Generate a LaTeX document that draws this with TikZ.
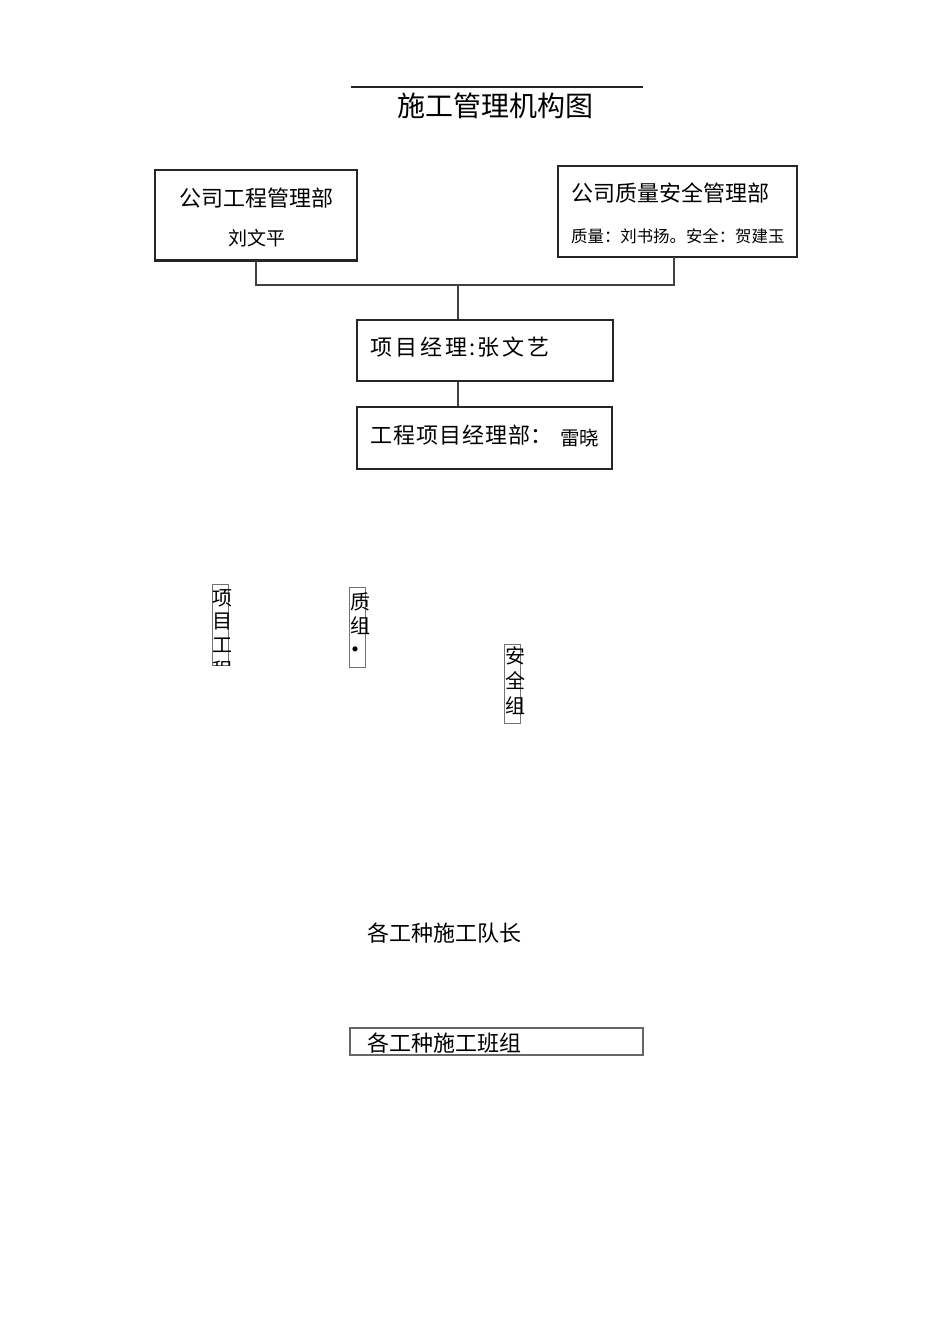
\documentclass[tikz,border=0pt]{standalone}
\usepackage{fontspec}
\newfontfamily\cjk{Noto Sans CJK SC}
\begin{document}
\begin{tikzpicture}[x=1pt,y=-1pt,
  box/.style={draw=black!85,line width=1.3pt,inner sep=0pt},
  slim/.style={draw=black!55,line width=1pt,inner sep=0pt,minimum width=16pt,minimum height=80pt},
  lbl/.style={font=\cjk\fontsize{#1}{#1}\selectfont,inner sep=0pt,anchor=west},
  vch/.style={font=\cjk\fontsize{20}{20}\selectfont,inner sep=0pt,anchor=center},
  conn/.style={draw=black!75,line width=1.3pt}]
\useasboundingbox[fill=white] (0,0) rectangle (950,1344);

% title
\draw[black!85,line width=1.2pt] (351,87) -- (643,87);
\node[lbl=28] (title) at (397,106) {施工管理机构图};

% top boxes
\node[box,minimum width=202pt,minimum height=90pt] (b1) at (256,215) {};
\draw[black!85,line width=2.4pt] (b1.south west) -- (b1.south east);
\node[lbl=22] (b1a) at (179,198) {公司工程管理部};
\node[lbl=19] (b1b) at (228,238) {刘文平};

\node[box,minimum width=239pt,minimum height=91pt] (b2) at (677.5,211.5) {};
\node[lbl=22] (b2a) at (571,193) {公司质量安全管理部};
\node[lbl=16.4] (b2b) at (571,236) {质量：刘书扬。安全：贺建玉};

% manager boxes
\node[box,minimum width=256pt,minimum height=61pt] (b3) at (485,350.5) {};
\node[lbl=22] (b3a) at (370,347) {项\kern3pt 目\kern3pt 经\kern3pt 理\kern2pt:\kern2pt 张\kern3pt 文\kern3pt 艺};

\node[box,minimum width=255pt,minimum height=62pt] (b4) at (484.5,438) {};
\node[lbl=22] (b4a) at (370,435) {工\kern1pt 程\kern1pt 项\kern1pt 目\kern1pt 经\kern1pt 理\kern1pt 部：};
\node[lbl=19.5] (b4b) at (560,438) {雷晓};

% connectors
\coordinate (j) at (458,285);
\coordinate (b2c) at (674,257);
\draw[conn] (b1.south) |- (j) -| (b2c);
\draw[conn] (j) -- (b3.north -| j);
\draw[conn] (b3.south -| j) -- (b4.north -| j);

% slim vertical boxes
\node[slim,minimum height=81pt] (sa) at (220,624.5) {};
\begin{scope}
\clip (195,575) rectangle (245,665);
\node[vch] (sa1) at (222,598) {项};
\node[vch] (sa2) at (222,621) {目};
\node[vch] (sa3) at (222,645) {工};
\node[vch] (sa4) at (222,670) {程};
\end{scope}

\node[slim,minimum height=80pt] (sb) at (357,627) {};
\node[vch] (sb1) at (360,602) {质};
\node[vch] (sb2) at (360,626) {组};
\node[font=\cjk\fontsize{24}{24}\selectfont,inner sep=0pt] (sb3) at (355,653) {•};

\node[slim,minimum height=79pt] (sc) at (512,683.5) {};
\node[vch] (sc1) at (515,656) {安};
\node[vch] (sc2) at (515,681) {全};
\node[vch] (sc3) at (515,706) {组};

% bottom
\node[lbl=22] (dz) at (367,933) {各工种施工队长};
\node[draw=black!60,line width=1.1pt,inner sep=0pt,minimum width=293pt,minimum height=27pt] (bz) at (496.5,1041.5) {};
\node[lbl=22] (bza) at (367,1043) {各工种施工班组};
\end{tikzpicture}
\end{document}
